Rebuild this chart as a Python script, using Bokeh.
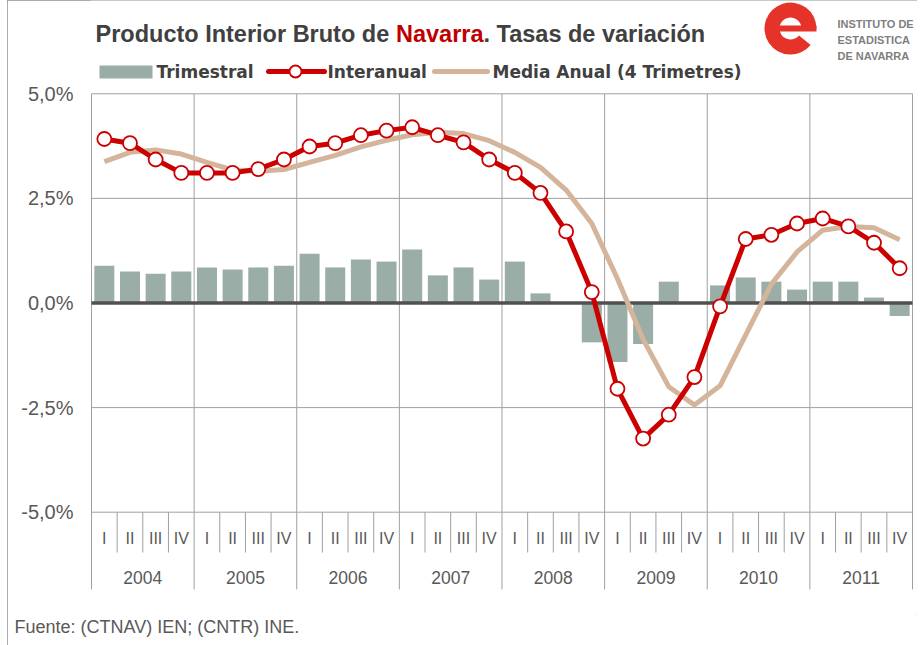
from bokeh.plotting import figure
from bokeh.models import FixedTicker, Title, Range1d, CustomJSTickFormatter
from bokeh.core.properties import value
from bokeh.embed import file_html
from bokeh.resources import INLINE

# ---------------- data ----------------
years = ["2004", "2005", "2006", "2007", "2008", "2009", "2010", "2011"]
quarters = ["I", "II", "III", "IV"]
trimestral = [0.89, 0.75, 0.70, 0.75, 0.85, 0.80, 0.85, 0.89,
              1.18, 0.85, 1.04, 0.99, 1.28, 0.66, 0.85, 0.56,
              0.99, 0.23, 0.00, -0.94, -1.41, -0.98, 0.51, 0.00,
              0.42, 0.61, 0.51, 0.32, 0.51, 0.51, 0.13, -0.31]
interanual = [3.92, 3.82, 3.43, 3.11, 3.11, 3.11, 3.20, 3.43,
              3.74, 3.82, 4.01, 4.12, 4.20, 4.01, 3.84, 3.43,
              3.11, 2.63, 1.71, 0.26, -2.05, -3.24, -2.67, -1.77,
              -0.08, 1.53, 1.63, 1.90, 2.02, 1.83, 1.44, 0.83]
media_anual = [3.38, 3.60, 3.66, 3.56, 3.36, 3.18, 3.15, 3.19,
               3.36, 3.53, 3.73, 3.89, 4.02, 4.08, 4.05, 3.88,
               3.60, 3.24, 2.70, 1.90, 0.58, -0.87, -2.00, -2.44,
               -1.98, -0.76, 0.45, 1.22, 1.74, 1.83, 1.80, 1.51]
y_ticks = [-5.0, -2.5, 0.0, 2.5, 5.0]
legend_labels = ["Trimestral", "Interanual", "Media Anual (4 Trimetres)"]
title_parts = ["Producto Interior Bruto de", "Navarra", ". Tasas de variación"]
source_note = "Fuente: (CTNAV) IEN; (CNTR) INE."
logo_lines = ["INSTITUTO DE", "ESTADISTICA", "DE NAVARRA"]

n = len(years) * len(quarters)
xq = [i + 0.5 for i in range(n)]
q_labels = [q for _ in years for q in quarters]
year_x = [len(quarters) * i + len(quarters) / 2 for i in range(len(years))]

# ---------------- page-pixel helpers (layout only) ----------------
X0, XS = 91.0, 25.656    # page x of category 0, px per quarter
Y0, YS = 302.5, 41.84    # page y of 0 %, px per 1 %
def dx(px):
    return (px - X0) / XS
def dy(py):
    return (Y0 - py) / YS

BAR = "#9AADA7"
RED = "#CC0000"
TAN = "#D4B59C"
GRID = "#A0A0A0"
TXT = "#595959"
DARK = "#404040"
LOGO = "#E5332A"

FB = 614  # page y of frame bottom
# canvas placed at page x = 7, y = 0
p = figure(frame_width=827, frame_height=FB, output_backend="svg", toolbar_location=None,
           x_range=Range1d(dx(90), dx(917)), y_range=Range1d(dy(FB), dy(0)),
           min_border_left=83, min_border_right=0, min_border_top=0, min_border_bottom=645 - FB,
           x_axis_location=None, y_axis_location="left")
p.outline_line_color = None
p.xgrid.visible = False
p.ygrid.visible = False
p.background_fill_color = "white"
p.border_fill_color = "white"
p.styles = {"margin-left": "7px", "outline": "1px solid #909090", "outline-offset": "-1px"}

ax = p.yaxis[0]
ax.ticker = FixedTicker(ticks=y_ticks)
ax.formatter = CustomJSTickFormatter(code="return tick.toFixed(1).replace('.', ',') + '%';")
ax.axis_line_color = None
ax.major_tick_line_color = None
ax.minor_tick_line_color = None
ax.major_tick_out = 0
ax.major_tick_in = 0
ax.major_label_standoff = 17
ax.major_label_text_font = "Liberation Sans"
ax.major_label_text_font_size = "20px"
ax.major_label_text_color = TXT

# ---------------- grid ----------------
hy = [t for t in y_ticks if t != 0]
p.segment(x0=[0] * len(hy), x1=[n] * len(hy), y0=hy, y1=hy, line_color=GRID, line_width=1)
yb = list(range(0, n + 1, len(quarters)))
p.segment(x0=yb, x1=yb, y0=[max(y_ticks)] * len(yb), y1=[dy(589)] * len(yb),
          line_color=GRID, line_width=1)
qb = [i for i in range(n) if i % len(quarters) != 0]
p.segment(x0=qb, x1=qb, y0=[min(y_ticks)] * len(qb), y1=[dy(552)] * len(qb),
          line_color=GRID, line_width=1)

# ---------------- data marks ----------------
p.vbar(x=xq, top=trimestral, bottom=0, width=0.78, fill_color=BAR, line_color=None)
p.segment(x0=[0], x1=[n], y0=[0], y1=[0], line_color="#505050", line_width=3.5)
p.line(xq, media_anual, line_color=TAN, line_width=5, line_join="round")
p.line(xq, interanual, line_color=RED, line_width=5, line_join="round")
p.scatter(xq, interanual, size=14, fill_color="white", line_color=RED, line_width=1.8)

# ---------------- category axis labels ----------------
p.text(x=xq, y=[dy(538)] * n, text=q_labels, text_align="center", text_baseline="middle",
       text_font=value("Liberation Sans"), text_font_size="16px", text_color=TXT)
p.text(x=year_x, y=[dy(577)] * len(years), text=years, text_align="center",
       text_baseline="middle", text_font=value("Liberation Sans"), text_font_size="17.5px",
       text_color=TXT)

# ---------------- title ----------------
tf = value("Liberation Sans")
p.text(x=[dx(95), dx(395.5), dx(483)], y=[dy(33)] * 3, text=title_parts,
       text_font=tf, text_font_style="bold", text_font_size="23.5px",
       text_color=[DARK, "#C00000", DARK], text_baseline="alphabetic")

# ---------------- legend ----------------
ly = dy(71)
p.quad(left=[dx(99)], right=[dx(152)], top=[dy(65)], bottom=[dy(78)], fill_color=BAR, line_color=None)
p.segment(x0=[dx(268)], x1=[dx(324)], y0=[ly], y1=[ly], line_color=RED, line_width=5, line_cap="round")
p.scatter([dx(295)], [ly], size=12, fill_color="white", line_color=RED, line_width=1.8)
p.segment(x0=[dx(434)], x1=[dx(487)], y0=[ly], y1=[ly], line_color=TAN, line_width=5, line_cap="round")
p.text(x=[dx(156), dx(327), dx(492)], y=[ly] * 3, text=legend_labels, text_baseline="middle",
       text_font=value("DejaVu Sans"), text_font_style="bold", text_font_size="17px", text_color=DARK)

# ---------------- logo ----------------
lx, lyy = dx(790), dy(28)
p.annular_wedge(x=[lx], y=[lyy], inner_radius=11, outer_radius=26,
                inner_radius_units="screen", outer_radius_units="screen",
                start_angle=0.0, end_angle=5.6, start_angle_units="rad",
                fill_color=LOGO, line_color=None)
p.quad(left=[dx(778)], right=[dx(816)], top=[dy(25)], bottom=[dy(31)], fill_color=LOGO, line_color=None)
p.text(x=[dx(837)] * 3, y=[dy(23), dy(39), dy(55)], text=logo_lines, text_baseline="middle",
       text_font=value("Liberation Sans"), text_font_style="bold", text_font_size="11px",
       text_color="#7F7F7F")

# ---------------- source note ----------------
p.add_layout(Title(text=source_note, align="left", offset=14 - 90, standoff=0,
                   text_font="Liberation Sans", text_font_style="normal",
                   text_font_size="18px", text_color=TXT), "below")

open("out.html", "w").write(file_html(p, INLINE))
